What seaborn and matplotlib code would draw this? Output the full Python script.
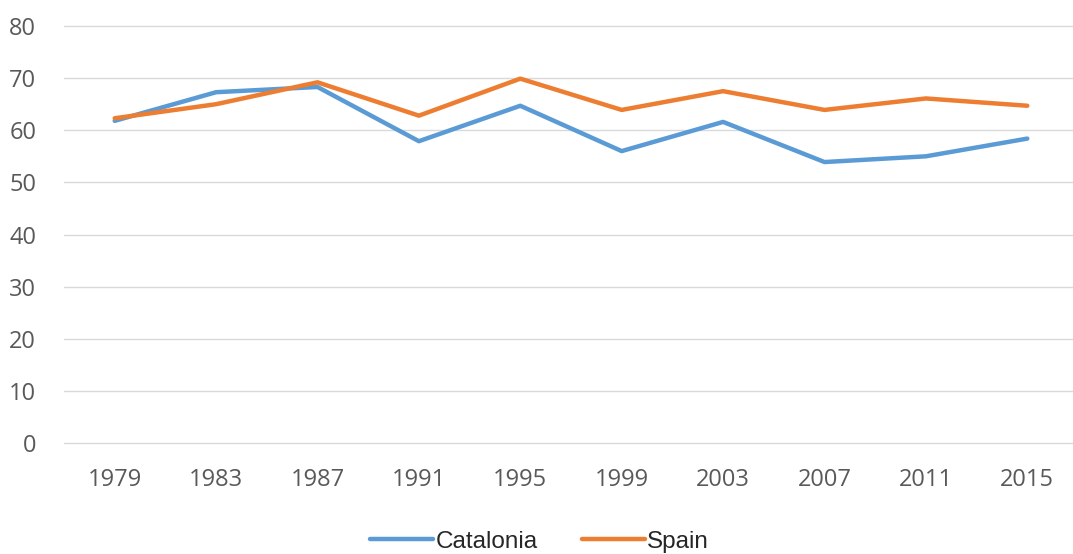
import pandas as pd
import numpy as np
import matplotlib.pyplot as plt
import seaborn as sns

years = [1979, 1983, 1987, 1991, 1995, 1999, 2003, 2007, 2011, 2015]
catalonia = [61.8, 67.3, 68.3, 57.9, 64.7, 56.0, 61.6, 53.9, 55.0, 58.4]
spain = [62.3, 65.0, 69.2, 62.8, 69.9, 63.9, 67.5, 63.9, 66.1, 64.7]
yticks = [0, 10, 20, 30, 40, 50, 60, 70, 80]

df = pd.DataFrame({
    'year': years * 2,
    'value': catalonia + spain,
    'region': ['Catalonia'] * len(years) + ['Spain'] * len(years),
})

sns.set_style('white')
plt.rcParams['font.family'] = ['Open Sans', 'DejaVu Sans']

fig = plt.figure(figsize=(10.73, 5.54), dpi=100)
ax = fig.add_axes([64 / 1073, 111 / 554, 1014 / 1073, 417 / 554])

sns.lineplot(data=df, x='year', y='value', hue='region',
             palette={'Catalonia': '#5B9BD5', 'Spain': '#ED7D31'},
             linewidth=3.2, ax=ax, legend=False, solid_capstyle='round')

ax.set_xlim(1977, 2017)
ax.set_ylim(0, 80)
ax.set_xticks(years)
ax.set_yticks(yticks)
ax.grid(axis='y', color='#d9d9d9', linewidth=1)
for gl in ax.get_ygridlines():
    gl.set_clip_on(False)
ax.set_axisbelow(True)
for s in ax.spines.values():
    s.set_visible(False)
ax.tick_params(axis='both', length=0, labelsize=17, labelcolor='#595959')
ax.tick_params(axis='y', pad=20)
ax.tick_params(axis='x', pad=18)
ax.set_xlabel('')
ax.set_ylabel('')

handles = [plt.Line2D([], [], color='#5B9BD5', linewidth=3.2, solid_capstyle='round'),
           plt.Line2D([], [], color='#ED7D31', linewidth=3.2, solid_capstyle='round')]
fig.legend(handles, ['Catalonia', 'Spain'], loc='center', bbox_to_anchor=(0.503, 0.022),
           ncol=2, frameon=False, handlelength=2.6, handletextpad=0.1, columnspacing=1.8,
           prop={'family': 'Liberation Sans', 'size': 17.5})

fig.savefig('out.png', dpi=100)
